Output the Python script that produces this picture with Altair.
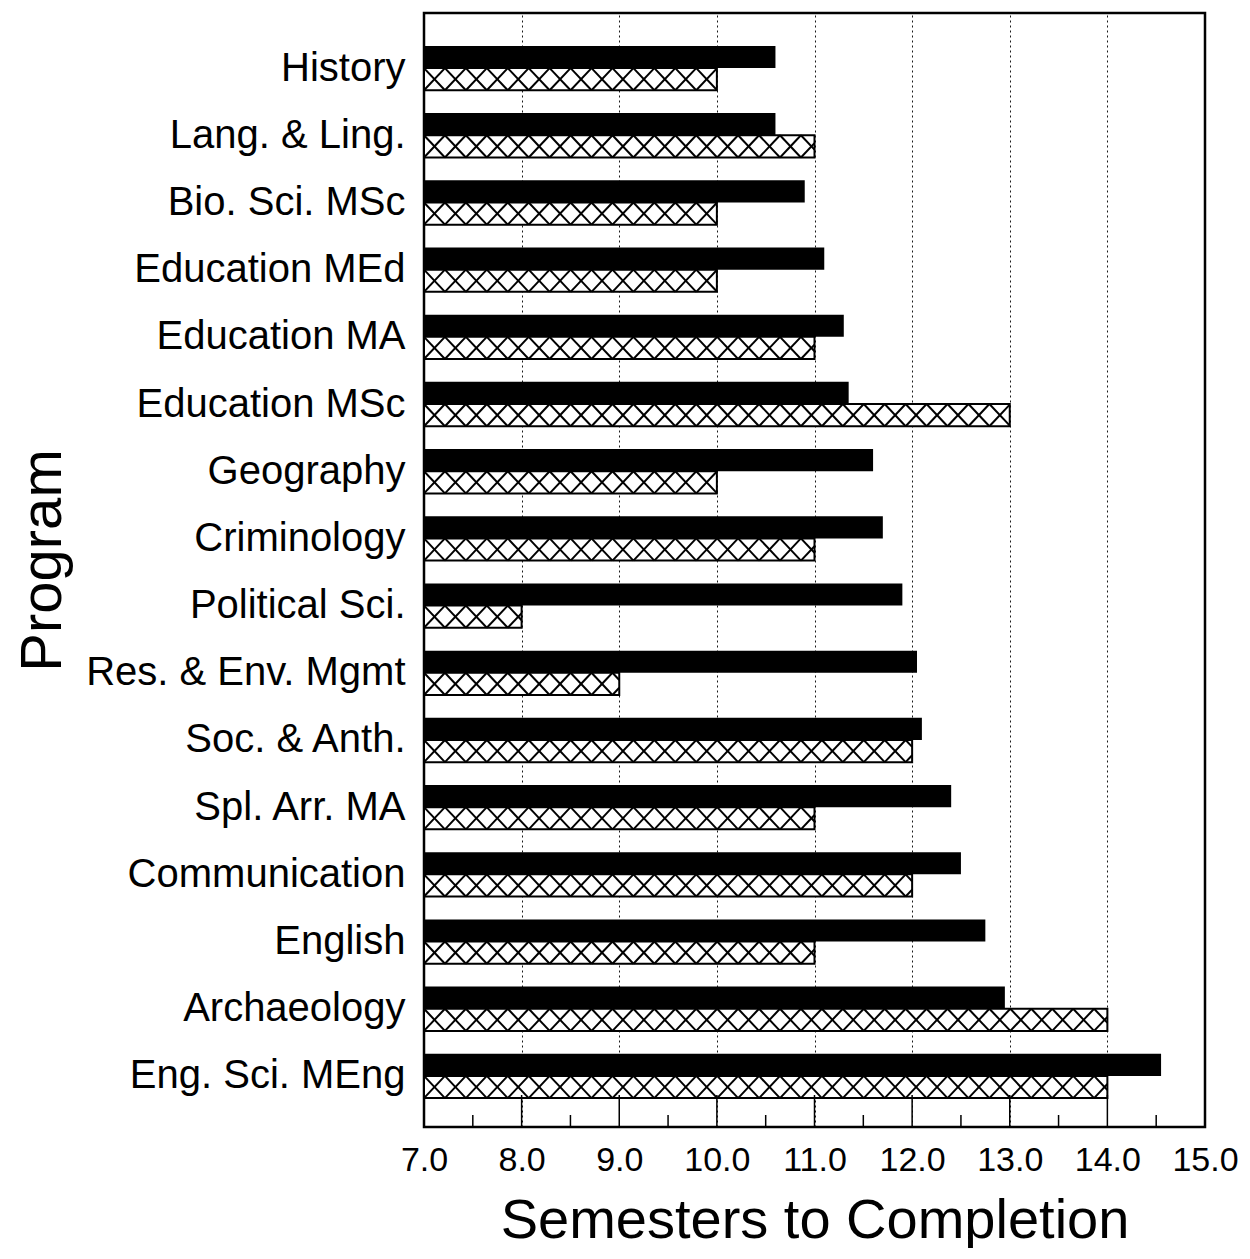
import altair as alt
import pandas as pd

programs = ["History", "Lang. & Ling.", "Bio. Sci. MSc", "Education MEd", "Education MA",
            "Education MSc", "Geography", "Criminology", "Political Sci.", "Res. & Env. Mgmt",
            "Soc. & Anth.", "Spl. Arr. MA", "Communication", "English", "Archaeology",
            "Eng. Sci. MEng"]
solid_values = [10.6, 10.6, 10.9, 11.1, 11.3, 11.35, 11.6, 11.7, 11.9, 12.05,
                12.1, 12.4, 12.5, 12.75, 12.95, 14.55]
hatched_values = [10.0, 11.0, 10.0, 10.0, 11.0, 13.0, 10.0, 11.0, 8.0, 9.0,
                  12.0, 11.0, 12.0, 11.0, 14.0, 14.0]
x_ticks = [7, 8, 9, 10, 11, 12, 13, 14, 15]
minor_ticks = [7.5, 8.5, 9.5, 10.5, 11.5, 12.5, 13.5, 14.5]

X0 = 7.0
BAR_H = 0.33      # bar thickness in row units
HATCH_D = 0.2145  # hatch cell width in semesters
W, H = 781, 1114

solid_df = pd.DataFrame({
    "program": programs,
    "xs": X0,
    "xe": solid_values,
    "ys": [i - BAR_H for i in range(len(programs))],
    "ye": [float(i) for i in range(len(programs))],
})
hatch_df = pd.DataFrame({
    "program": programs,
    "xs": X0,
    "xe": hatched_values,
    "ys": [float(i) for i in range(len(programs))],
    "ye": [i + BAR_H for i in range(len(programs))],
})

# cross-hatch strokes derived from each hatched bar's extent
rows = []
for i, v in enumerate(hatched_values):
    k = 0
    while X0 + k * HATCH_D < v - 1e-9:
        a = X0 + k * HATCH_D
        b = min(a + HATCH_D, v)
        f = (b - a) / HATCH_D
        rows.append({"xs": a, "xe": b, "ys": i + BAR_H, "ye": i + BAR_H - BAR_H * f})
        rows.append({"xs": a, "xe": b, "ys": float(i), "ye": i + BAR_H * f})
        k += 1
lines_df = pd.DataFrame(rows)

xscale = alt.Scale(domain=[7, 15], nice=False, zero=False)
yscale = alt.Scale(domain=[-0.82, 15.76], nice=False, zero=False, reverse=True)

label_js = "[" + ",".join("'" + p + "'" for p in programs) + "]"

x_axis = alt.Axis(values=x_ticks, format=".1f", title="Semesters to Completion",
                  labelFontSize=34, labelPadding=16, labelColor="black",
                  ticks=False, domain=False, grid=True, gridColor="black",
                  gridDash=[2, 3], gridWidth=1, gridOpacity=0.9,
                  titleFontSize=56, titleFontWeight="normal", titleColor="black",
                  titlePadding=16, labelFlush=False)
y_axis = alt.Axis(values=list(range(len(programs))), labelExpr=f"{label_js}[datum.value]",
                  labelFontSize=40, labelPadding=19, labelColor="black", labelLimit=600,
                  ticks=False, domain=False, grid=False, labelFlush=False,
                  title="Program", titleFontSize=58, titleFontWeight="normal",
                  titleColor="black", titleX=-364, titleY=547,
                  titleBaseline="alphabetic", titleAlign="center")


def xy(chart):
    return chart.encode(
        x=alt.X("xs:Q", scale=xscale, axis=x_axis),
        x2="xe:Q",
        y=alt.Y("ys:Q", scale=yscale, axis=y_axis),
        y2="ye:Q",
    )


solid = xy(alt.Chart(solid_df).mark_rect(color="black"))
hatched = xy(alt.Chart(hatch_df).mark_rect(fill="white", stroke="black", strokeWidth=2))
hatch_lines = xy(alt.Chart(lines_df).mark_rule(color="black", strokeWidth=2))

major = alt.Chart(pd.DataFrame({"xs": x_ticks[1:-1]})).mark_rule(color="black", strokeWidth=1.5).encode(
    x=alt.X("xs:Q", scale=xscale, axis=x_axis),
    y=alt.value(H),
    y2=alt.value(H - 32),
)
minor = alt.Chart(pd.DataFrame({"xs": minor_ticks})).mark_rule(color="black", strokeWidth=1.5).encode(
    x=alt.X("xs:Q", scale=xscale, axis=x_axis),
    y=alt.value(H),
    y2=alt.value(H - 12),
)

chart = alt.layer(solid, hatched, hatch_lines, major, minor).properties(
    width=W, height=H,
    padding={"left": 5, "top": 5, "right": 0, "bottom": 0},
).configure(
    font="Liberation Sans", background="white"
).configure_view(
    stroke="black", strokeWidth=2.5
)

chart.save("out.html", embed_options={"renderer": "svg", "actions": False})
